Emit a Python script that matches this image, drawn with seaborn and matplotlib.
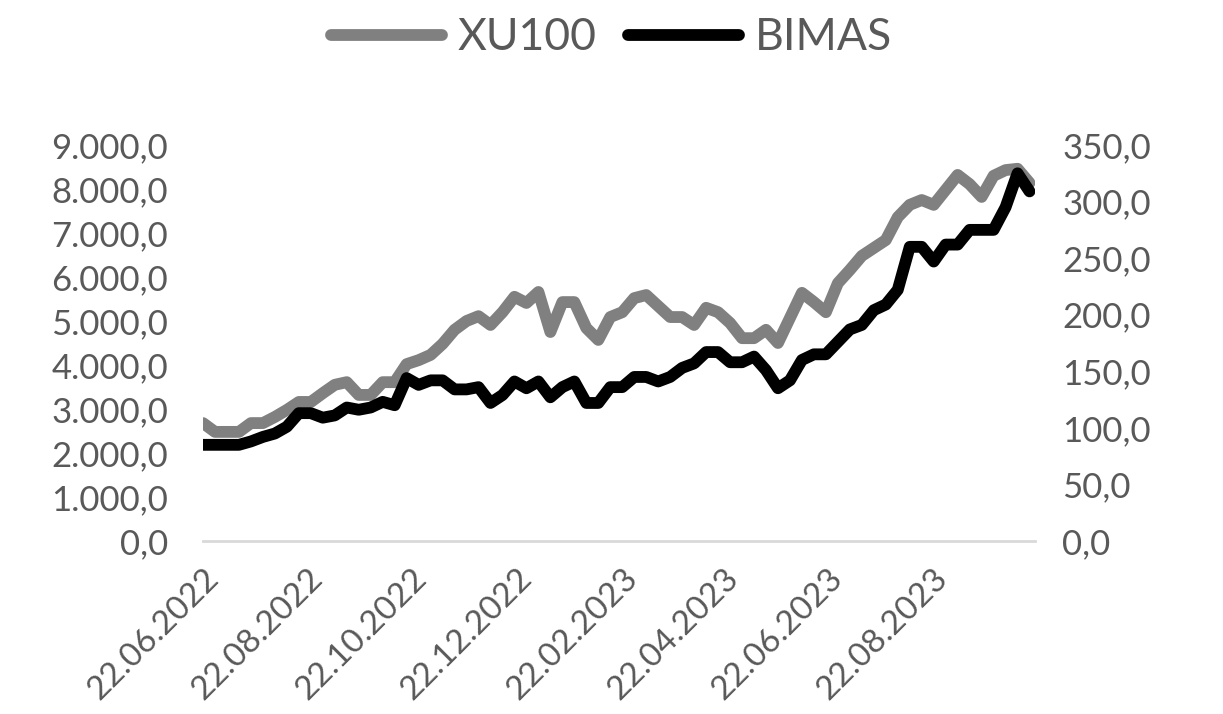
import numpy as np
import pandas as pd
import seaborn as sns
import matplotlib.pyplot as plt
import matplotlib.dates as mdates
from matplotlib.ticker import FuncFormatter, FixedLocator

# Haftalık kapanış değerleri
dates = pd.date_range("2022-06-22", periods=70, freq="7D")

xu100 = [2680, 2480, 2480, 2480, 2680, 2680, 2820, 2980, 3160, 3160,
         3360, 3550, 3610, 3320, 3320, 3610, 3610, 4020, 4110, 4230,
         4480, 4800, 5000, 5110, 4910, 5200, 5550, 5410, 5660, 4750,
         5430, 5430, 4840, 4570, 5090, 5200, 5520, 5590, 5340, 5090,
         5090, 4910, 5300, 5200, 4955, 4610, 4610, 4800, 4500, 5070,
         5640, 5430, 5200, 5860, 6160, 6480, 6660, 6840, 7360, 7640,
         7750, 7640, 7980, 8320, 8110, 7820, 8300, 8430, 8460, 8140]

bimas = [85, 85, 85, 85, 88, 92, 95, 101, 113, 113,
         109, 111, 118, 116, 118, 123, 120, 144, 138, 142,
         142, 134, 134, 136, 122, 129, 141, 135, 141, 127,
         136, 141, 122, 122, 136, 136, 145, 145, 141, 145,
         153, 157, 167, 167, 158, 158, 163, 151, 135, 142,
         160, 165, 165, 176, 187, 191, 204, 209, 222, 260,
         260, 247, 262, 262, 275, 275, 275, 295, 325, 309]

tick_dates = ["2022-06-22", "2022-08-22", "2022-10-22", "2022-12-22",
              "2023-02-22", "2023-04-22", "2023-06-22", "2023-08-22"]
tick_labels = ["22.06.2022", "22.08.2022", "22.10.2022", "22.12.2022",
               "22.02.2023", "22.04.2023", "22.06.2023", "22.08.2023"]

df = pd.DataFrame({"Tarih": dates, "XU100": xu100, "BIMAS": bimas})

sns.set_theme(style="white")
plt.rcParams["font.family"] = ["Lato", "DejaVu Sans"]
text_color = "#595959"
axis_color = "#d9d9d9"


def tr_format(v, pos):
    s = f"{v:,.1f}"
    return s.replace(",", "X").replace(".", ",").replace("X", ".")


fig = plt.figure(figsize=(12.23, 7.14), dpi=100)
ax = fig.add_axes([0.166, 0.2423, 0.680, 0.5546])
ax2 = ax.twinx()

sns.lineplot(data=df, x="Tarih", y="XU100", ax=ax, color="#808080",
             linewidth=8.5, solid_joinstyle="round", solid_capstyle="round",
             label="XU100", legend=False)
sns.lineplot(data=df, x="Tarih", y="BIMAS", ax=ax2, color="#000000",
             linewidth=8.5, solid_joinstyle="round", solid_capstyle="round",
             label="BIMAS", legend=False)

ax.set_xlim(dates[0], dates[0] + pd.Timedelta(days=486))
ax.set_ylim(0, 9000)
ax2.set_ylim(0, 350)
ax.yaxis.set_major_locator(FixedLocator(np.arange(0, 9001, 1000)))
ax2.yaxis.set_major_locator(FixedLocator(np.arange(0, 351, 50)))
ax.yaxis.set_major_formatter(FuncFormatter(tr_format))
ax2.yaxis.set_major_formatter(FuncFormatter(tr_format))

ax.set_xticks(mdates.date2num(pd.to_datetime(tick_dates)))
ax.set_xticklabels(tick_labels, rotation=45, ha="right",
                   rotation_mode="anchor")

ax.set_xlabel("")
ax.set_ylabel("")
ax2.set_ylabel("")

for a in (ax, ax2):
    for s in a.spines.values():
        s.set_visible(False)
ax.spines["bottom"].set_visible(True)
ax.spines["bottom"].set_color(axis_color)
ax.spines["bottom"].set_linewidth(2)

ax.tick_params(axis="x", length=7, width=2, color=axis_color,
               labelsize=24, labelcolor=text_color, pad=9)
ax.tick_params(axis="y", length=0, labelsize=25, labelcolor=text_color, pad=25)
ax2.tick_params(axis="y", length=0, labelsize=25, labelcolor=text_color, pad=20)

h1, l1 = ax.get_legend_handles_labels()
h2, l2 = ax2.get_legend_handles_labels()
leg = fig.legend(h1 + h2, l1 + l2, loc="center", bbox_to_anchor=(0.5, 0.947),
                 ncol=2, frameon=False, fontsize=32, handlelength=2.5,
                 handletextpad=0.35, columnspacing=0.7, labelcolor=text_color)

fig.savefig("out.png", dpi=100)
